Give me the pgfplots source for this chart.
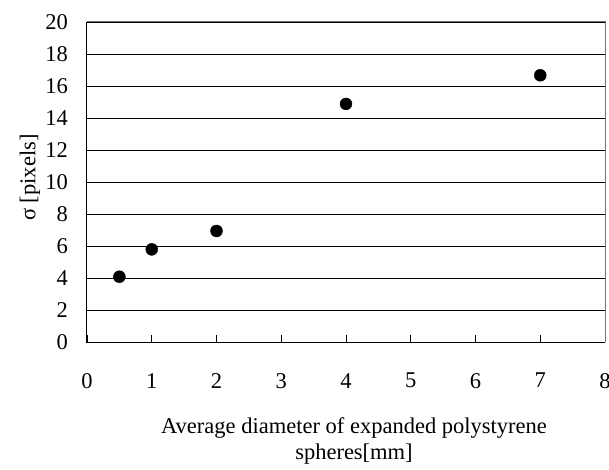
\documentclass[border=0pt]{standalone}
\usepackage{fontspec}
\setmainfont{Liberation Serif}
\usepackage{pgfplots}
\pgfplotsset{compat=1.18}
\begin{document}
\fontsize{22.5}{26}\selectfont
\begin{tikzpicture}
\begin{axis}[
  name=ax,
  scale only axis,
  width=518pt, height=320pt,
  xmin=0, xmax=8, ymin=0, ymax=20,
  xtick={0,1,...,8}, ytick={0,2,...,20},
  ymajorgrids,
  major grid style={black, line width=0.8pt},
  axis line style={draw=none},
  tick style={black, line width=0.8pt},
  xtick pos=bottom, xtick align=inside,
  major tick length=7pt,
  ytick style={draw=none},
  ytick pos=left,
  tick label style={font=\fontsize{22.5}{26}\selectfont},
  /pgf/number format/assume math mode=true,
  xticklabel style={yshift=-23.5pt},
  yticklabel style={xshift=-11.5pt},
  xlabel={Average diameter of expanded polystyrene\\spheres[mm]},
  xlabel style={at={(axis description cs:0.5,0)}, anchor=north, align=center,
    font=\fontsize{22.5}{26}\selectfont, xshift=8pt, yshift=-67.5pt},
  ylabel={σ [pixels]},
  ylabel style={at={(axis description cs:0,0.5)}, anchor=center,
    font=\fontsize{22.5}{26}\selectfont, xshift=4.5pt, yshift=57pt},
  clip=false,
]
\addplot[only marks, mark=*, mark size=6pt, mark options={fill=black, draw=black}]
  coordinates {(0.5,4.08) (1,5.79) (2,6.94) (4,14.88) (7,16.67)};
\draw[black!55, line width=1pt] (rel axis cs:0,1) -- (rel axis cs:1,1) -- (rel axis cs:1,0);
\draw[black, line width=1pt] (rel axis cs:0,1) -- (rel axis cs:0,0) -- (rel axis cs:1,0);
\end{axis}
\pgfresetboundingbox
\path ([shift={(-87pt,-128pt)}]ax.south west) rectangle ([shift={(4pt,22pt)}]ax.north east);
\end{tikzpicture}
\end{document}
